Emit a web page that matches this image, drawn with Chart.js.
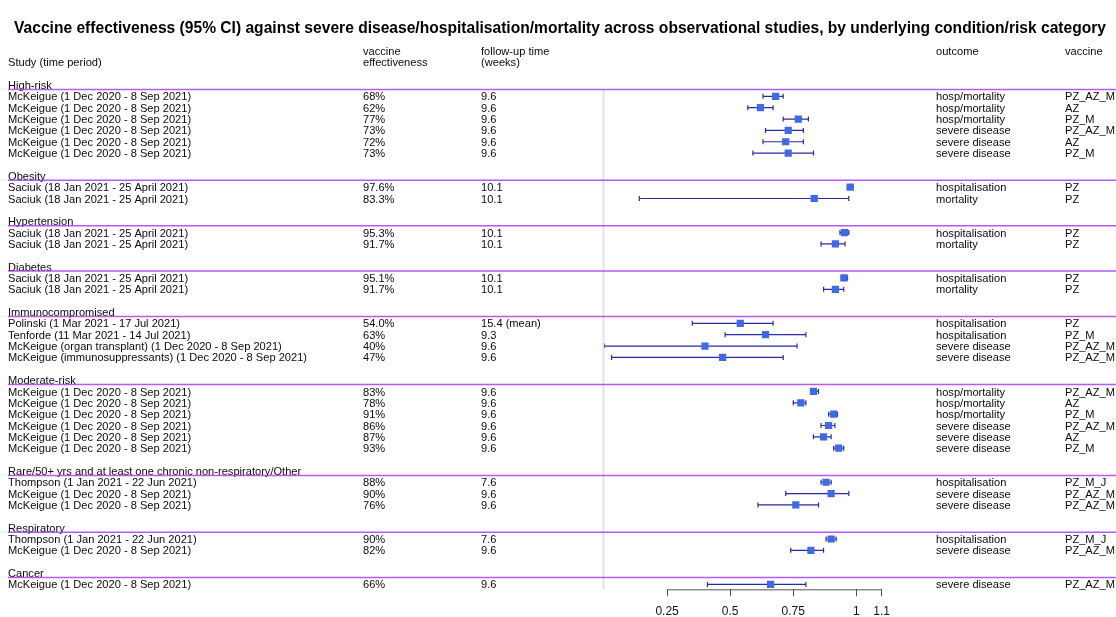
<!DOCTYPE html>
<html>
<head>
<meta charset="utf-8">
<title>Vaccine effectiveness forest plot</title>
<script src="https://cdn.jsdelivr.net/npm/chart.js@4.4.1/dist/chart.umd.min.js"></script>
<style>
    html, body { margin: 0; padding: 0; background: #fff; }
    #wrap { position: relative; width: 1116px; height: 617px; }
</style>
</head>
<body>
<div id="wrap"><canvas id="forest-chart"></canvas></div>
<script>
"use strict";

// groups (risk categories) and how many study rows each one has
var groupNames = ["High-risk", "Obesity", "Hypertension", "Diabetes", "Immunocompromised", "Moderate-risk",
    "Rare/50+ yrs and at least one chronic non-respiratory/Other", "Respiratory", "Cancer"];
var groupSizes = [6, 2, 2, 2, 4, 6, 3, 2, 1];

var mck = "McKeigue (1 Dec 2020 - 8 Sep 2021)";
var sac = "Saciuk (18 Jan 2021 - 25 April 2021)";
var tho = "Thompson (1 Jan 2021 - 22 Jun 2021)";

var studies = [mck, mck, mck, mck, mck, mck,
    sac, sac,
    sac, sac,
    sac, sac,
    "Polinski (1 Mar 2021 - 17 Jul 2021)", "Tenforde (11 Mar 2021 - 14 Jul 2021)",
    "McKeigue (organ transplant) (1 Dec 2020 - 8 Sep 2021)", "McKeigue (immunosuppressants) (1 Dec 2020 - 8 Sep 2021)",
    mck, mck, mck, mck, mck, mck,
    tho, mck, mck,
    tho, mck,
    mck];

var veText = ["68%", "62%", "77%", "73%", "72%", "73%",
    "97.6%", "83.3%",
    "95.3%", "91.7%",
    "95.1%", "91.7%",
    "54.0%", "63%", "40%", "47%",
    "83%", "78%", "91%", "86%", "87%", "93%",
    "88%", "90%", "76%",
    "90%", "82%",
    "66%"];

var followUp = ["9.6", "9.6", "9.6", "9.6", "9.6", "9.6",
    "10.1", "10.1",
    "10.1", "10.1",
    "10.1", "10.1",
    "15.4 (mean)", "9.3", "9.6", "9.6",
    "9.6", "9.6", "9.6", "9.6", "9.6", "9.6",
    "7.6", "9.6", "9.6",
    "7.6", "9.6",
    "9.6"];

var outcomes = ["hosp/mortality", "hosp/mortality", "hosp/mortality", "severe disease", "severe disease", "severe disease",
    "hospitalisation", "mortality",
    "hospitalisation", "mortality",
    "hospitalisation", "mortality",
    "hospitalisation", "hospitalisation", "severe disease", "severe disease",
    "hosp/mortality", "hosp/mortality", "hosp/mortality", "severe disease", "severe disease", "severe disease",
    "hospitalisation", "severe disease", "severe disease",
    "hospitalisation", "severe disease",
    "severe disease"];

var vaccines = ["PZ_AZ_M", "AZ", "PZ_M", "PZ_AZ_M", "AZ", "PZ_M",
    "PZ", "PZ",
    "PZ", "PZ",
    "PZ", "PZ",
    "PZ", "PZ_M", "PZ_AZ_M", "PZ_AZ_M",
    "PZ_AZ_M", "AZ", "PZ_M", "PZ_AZ_M", "AZ", "PZ_M",
    "PZ_M_J", "PZ_AZ_M", "PZ_AZ_M",
    "PZ_M_J", "PZ_AZ_M",
    "PZ_AZ_M"];

// point estimate and 95% CI
var estimate = [0.68, 0.62, 0.77, 0.73, 0.72, 0.73,
    0.976, 0.833,
    0.953, 0.917,
    0.951, 0.917,
    0.54, 0.64, 0.40, 0.47,
    0.83, 0.78, 0.91, 0.89, 0.87, 0.93,
    0.88, 0.90, 0.76,
    0.90, 0.82,
    0.66];
var ciLow = [0.63, 0.57, 0.71, 0.64, 0.63, 0.59,
    0.964, 0.14,
    0.935, 0.86,
    0.94, 0.87,
    0.35, 0.48, 0.0, 0.03,
    0.82, 0.75, 0.89, 0.86, 0.83, 0.91,
    0.86, 0.72, 0.61,
    0.88, 0.74,
    0.41];
var ciHigh = [0.71, 0.67, 0.81, 0.79, 0.79, 0.83,
    0.985, 0.97,
    0.97, 0.955,
    0.965, 0.95,
    0.67, 0.80, 0.765, 0.71,
    0.85, 0.80, 0.925, 0.915, 0.90, 0.95,
    0.90, 0.97, 0.85,
    0.92, 0.87,
    0.80];

var xTicks = [0.25, 0.5, 0.75, 1, 1.1];

var titleText = "Vaccine effectiveness (95% CI) against severe disease/hospitalisation/mortality across observational studies, by underlying condition/risk category";

// row layout: group label, its studies, then a blank row
var groupRow = [];
var studyRow = [];
var r = 0;
for (var g = 0; g < groupNames.length; g++) {
    groupRow.push(r);
    for (var j = 0; j < groupSizes[g]; j++) {
        studyRow.push(r + 1 + j);
    }
    r += groupSizes[g] + 2;
}

var pointData = [];
var ciData = [];
for (var i = 0; i < studies.length; i++) {
    pointData.push({ x: estimate[i], y: studyRow[i] });
    ciData.push({ x: ciLow[i], y: studyRow[i] });
    ciData.push({ x: ciHigh[i], y: studyRow[i] });
    ciData.push({ x: ciHigh[i], y: null });
}

var fontFamily = "'Liberation Sans', Arial, sans-serif";
var textFont = "11.1px " + fontFamily;
var colX = { study: 8, ve: 363, follow: 481, outcome: 936, vaccine: 1065 };

var tablePlugin = {
    id: 'forestTable',
    beforeDatasetsDraw: function (chart) {
        var ctx = chart.ctx;
        var xs = chart.scales.x;
        var ys = chart.scales.y;
        var x0 = Math.round(xs.getPixelForValue(0)) - 0.5;
        ctx.save();
        // light reference line at zero
        ctx.strokeStyle = '#e4e4e4';
        ctx.lineWidth = 2;
        ctx.beginPath();
        ctx.moveTo(x0, ys.getPixelForValue(groupRow[0]) + 4.5);
        ctx.lineTo(x0, chart.chartArea.bottom);
        ctx.stroke();
        // axis line only over the tick range
        ctx.strokeStyle = '#555';
        ctx.lineWidth = 1;
        ctx.beginPath();
        ctx.moveTo(xs.getPixelForValue(xTicks[0]), chart.chartArea.bottom + 0.5);
        ctx.lineTo(xs.getPixelForValue(xTicks[xTicks.length - 1]), chart.chartArea.bottom + 0.5);
        ctx.stroke();
        ctx.restore();
    },
    afterDraw: function (chart) {
        var ctx = chart.ctx;
        var ys = chart.scales.y;
        var dy = 1; // text sits a little below the row centre
        ctx.save();

        // title
        ctx.fillStyle = '#000';
        ctx.textBaseline = 'middle';
        ctx.textAlign = 'center';
        ctx.font = "bold 15.6px " + fontFamily;
        ctx.fillText(titleText, 560, 29);

        ctx.font = textFont;
        ctx.fillStyle = '#0a0a0a';
        ctx.textAlign = 'left';

        // column headers
        ctx.fillText("Study (time period)", colX.study, ys.getPixelForValue(-2) + dy);
        ctx.fillText("vaccine", colX.ve, ys.getPixelForValue(-3) + dy);
        ctx.fillText("effectiveness", colX.ve, ys.getPixelForValue(-2) + dy);
        ctx.fillText("follow-up time", colX.follow, ys.getPixelForValue(-3) + dy);
        ctx.fillText("(weeks)", colX.follow, ys.getPixelForValue(-2) + dy);
        ctx.fillText("outcome", colX.outcome, ys.getPixelForValue(-3) + dy);
        ctx.fillText("vaccine", colX.vaccine, ys.getPixelForValue(-3) + dy);

        // group labels with purple separator lines
        for (var g = 0; g < groupNames.length; g++) {
            var gy = ys.getPixelForValue(groupRow[g]);
            ctx.fillText(groupNames[g], colX.study, gy + dy);
            ctx.strokeStyle = 'rgba(160, 32, 240, 0.75)';
            ctx.lineWidth = 1.5;
            ctx.beginPath();
            ctx.moveTo(colX.study, gy + 4.5);
            ctx.lineTo(chart.width, gy + 4.5);
            ctx.stroke();
        }

        // study rows
        for (var i = 0; i < studies.length; i++) {
            var y = ys.getPixelForValue(studyRow[i]) + dy;
            ctx.fillText(studies[i], colX.study, y);
            ctx.fillText(veText[i], colX.ve, y);
            ctx.fillText(followUp[i], colX.follow, y);
            ctx.fillText(outcomes[i], colX.outcome, y);
            ctx.fillText(vaccines[i], colX.vaccine, y);
        }
        ctx.restore();
    }
};

var lastRow = studyRow[studyRow.length - 1];

var forest = new Chart(document.getElementById('forest-chart'), {
    type: 'scatter',
    data: {
        datasets: [{
            label: 'estimate',
            data: pointData,
            pointStyle: 'rect',
            pointRadius: 5.1,
            pointHoverRadius: 5.1,
            backgroundColor: '#4169E1',
            borderColor: '#4169E1',
            borderWidth: 0,
            order: 0
        }, {
            label: '95% CI',
            data: ciData,
            showLine: true,
            spanGaps: false,
            borderColor: '#2b2ba0',
            borderWidth: 1.2,
            pointStyle: 'line',
            rotation: 90,
            pointRadius: 2.5,
            pointHoverRadius: 2.5,
            pointBorderColor: '#2b2ba0',
            pointBorderWidth: 1.2,
            order: 1
        }]
    },
    options: {
        responsive: true,
        maintainAspectRatio: false,
        animation: false,
        layout: {
            padding: { left: 604, right: 234.4, top: 73.65, bottom: 0 }
        },
        plugins: {
            legend: { display: false },
            tooltip: { enabled: false },
            title: { display: false }
        },
        scales: {
            x: {
                type: 'linear',
                min: 0,
                max: 1.1,
                afterBuildTicks: function (scale) {
                    scale.ticks = xTicks.map(function (v) { return { value: v }; });
                },
                afterFit: function (scale) {
                    scale.height = 27.7;
                },
                grid: {
                    drawOnChartArea: false,
                    drawTicks: true,
                    tickLength: 7,
                    color: '#555'
                },
                border: { display: false },
                ticks: {
                    autoSkip: false,
                    maxRotation: 0,
                    padding: 8,
                    color: '#111',
                    font: { family: fontFamily, size: 12 },
                    callback: function (v) { return String(v); }
                }
            },
            y: {
                type: 'linear',
                display: false,
                reverse: true,
                min: -1,
                max: lastRow + 0.43
            }
        }
    },
    plugins: [tablePlugin]
});
</script>
</body>
</html>
